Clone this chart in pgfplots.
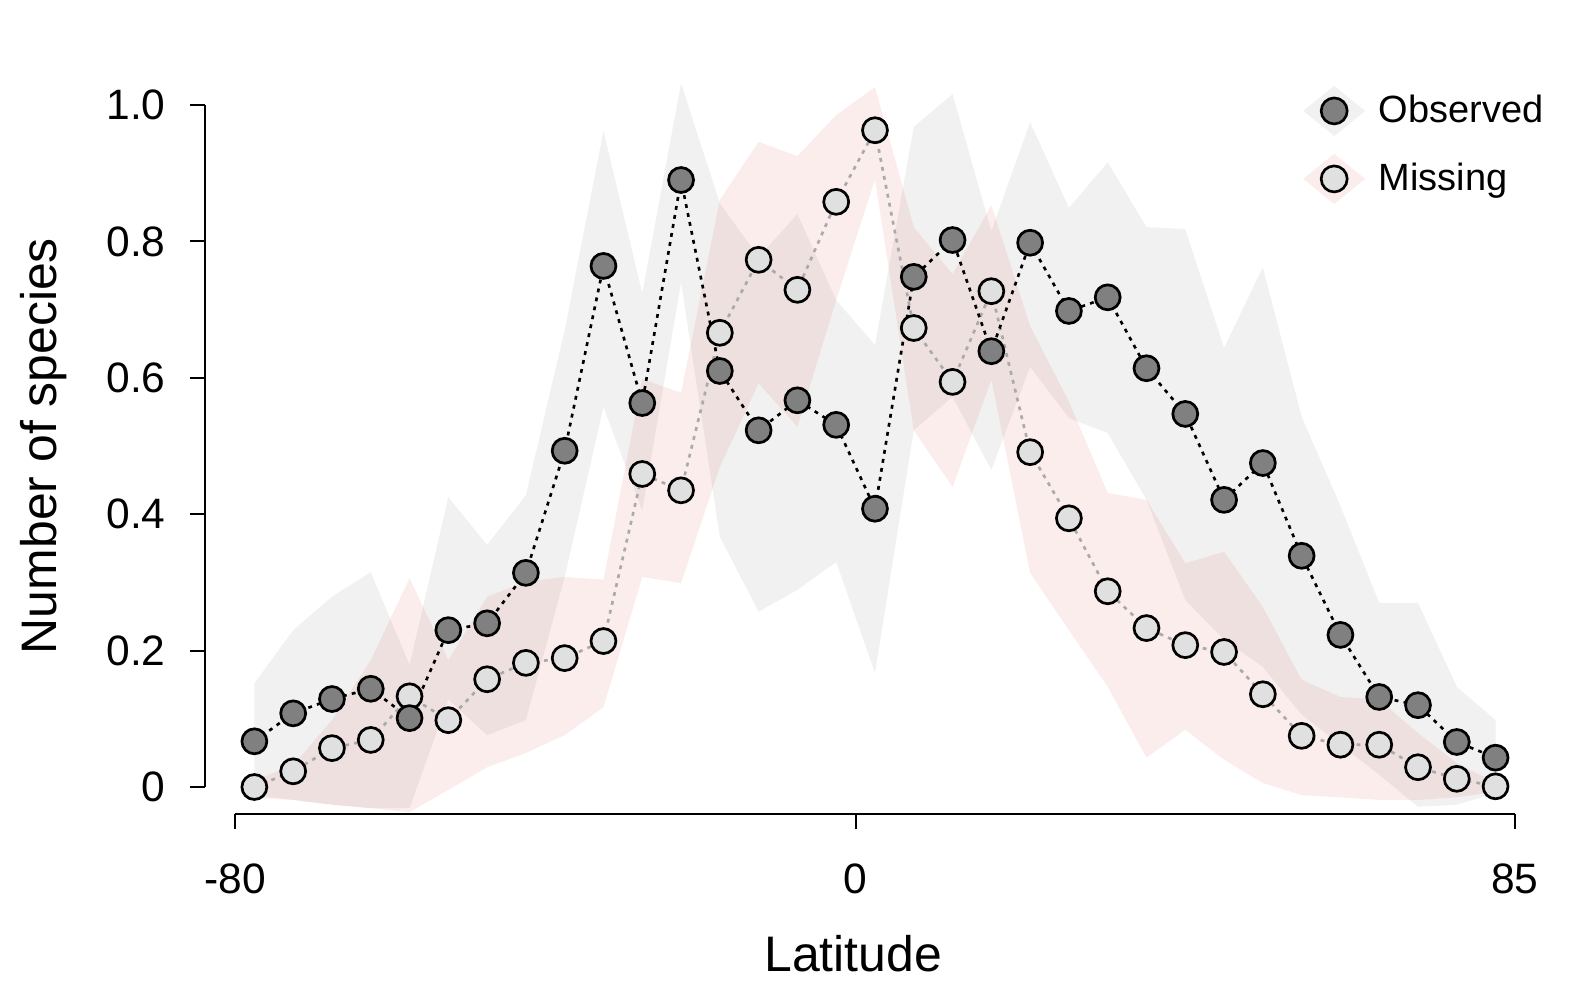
\documentclass[border=0pt]{standalone}
\usepackage{fontspec}
\setmainfont{Liberation Sans}
\usepackage{pgfplots}
\usepackage{pgfplotstable}
\pgfplotsset{compat=1.18}
\usepgfplotslibrary{fillbetween}

\definecolor{obsfill}{RGB}{128,128,128}
\definecolor{misfill}{RGB}{224,224,224}
\definecolor{misline}{RGB}{170,170,170}
\definecolor{pinkband}{RGB}{205,75,55}

% latitude, value, lower and upper edge of the band
\pgfplotstableread{
lat y lo hi
-77.5 0.067 -0.012 0.152
-72.5 0.108 -0.019 0.230
-67.5 0.129 -0.026 0.279
-62.5 0.144 -0.031 0.315
-57.5 0.101 -0.031 0.179
-52.5 0.230 0.128 0.425
-47.5 0.240 0.076 0.355
-42.5 0.314 0.098 0.428
-37.5 0.493 0.308 0.670
-32.5 0.764 0.557 0.962
-27.5 0.563 0.405 0.724
-22.5 0.890 0.740 1.032
-17.5 0.610 0.367 0.856
-12.5 0.523 0.257 0.777
-7.5 0.567 0.289 0.840
-2.5 0.531 0.330 0.714
2.5 0.408 0.167 0.648
7.5 0.748 0.523 0.968
12.5 0.802 0.572 1.016
17.5 0.639 0.465 0.815
22.5 0.798 0.616 0.975
27.5 0.698 0.541 0.849
32.5 0.718 0.519 0.916
37.5 0.614 0.421 0.821
42.5 0.547 0.274 0.818
47.5 0.421 0.216 0.644
52.5 0.475 0.176 0.762
57.5 0.339 0.106 0.543
62.5 0.223 0.062 0.412
67.5 0.132 0.018 0.270
72.5 0.120 -0.029 0.270
77.5 0.066 -0.026 0.147
82.5 0.043 -0.009 0.098
}\obs

\pgfplotstableread{
lat y lo hi
-77.5 0.000 -0.016 0.010
-72.5 0.023 -0.019 0.032
-67.5 0.057 -0.026 0.098
-62.5 0.069 -0.031 0.186
-57.5 0.133 -0.037 0.306
-52.5 0.098 -0.004 0.186
-47.5 0.158 0.029 0.279
-42.5 0.182 0.050 0.301
-37.5 0.189 0.076 0.308
-32.5 0.214 0.117 0.304
-27.5 0.459 0.308 0.598
-22.5 0.435 0.299 0.578
-17.5 0.666 0.469 0.861
-12.5 0.773 0.592 0.946
-7.5 0.729 0.528 0.925
-2.5 0.858 0.714 0.985
2.5 0.963 0.891 1.026
7.5 0.673 0.523 0.821
12.5 0.594 0.440 0.752
17.5 0.727 0.597 0.853
22.5 0.491 0.314 0.676
27.5 0.394 0.230 0.565
32.5 0.287 0.147 0.431
37.5 0.233 0.043 0.421
42.5 0.208 0.084 0.328
47.5 0.198 0.040 0.345
52.5 0.136 0.006 0.264
57.5 0.075 -0.012 0.157
62.5 0.062 -0.015 0.132
67.5 0.062 -0.019 0.128
72.5 0.029 -0.019 0.079
77.5 0.012 -0.015 0.035
82.5 0.001 -0.007 0.006
}\mis

\begin{document}
\begin{tikzpicture}
\begin{axis}[
scale only axis,
width=128mm, height=68.2mm,
xmin=-80, xmax=85, ymin=0, ymax=1,
clip=false,
axis x line*=bottom, axis y line*=left,
axis x line shift=2.7mm, axis y line shift=3mm,
axis line style={line width=0.6pt},
tick style={black, line width=0.6pt},
tick align=outside, major tick length=1.5mm,
xtick={-80,0,85}, xticklabels={-80,0,85},
ytick={0,0.2,0.4,0.6,0.8,1}, yticklabels={0,0.2,0.4,0.6,0.8,1.0},
ticklabel style={font=\fontsize{12.1}{14}\selectfont},
xticklabel style={yshift=-2.2mm},
yticklabel style={xshift=-1.2mm},
xlabel={Latitude}, ylabel={Number of species},
xlabel style={at={(axis description cs:0.483,-0.271)}, anchor=base, font=\fontsize{14.2}{17}\selectfont},
ylabel style={at={(axis description cs:-0.1398,0.5)}, anchor=base, font=\fontsize{14.2}{17}\selectfont},
legend style={at={(axis description cs:0.834,1.029)}, anchor=north west, draw=none, fill=none,
  inner sep=0pt, row sep=1.8mm, font=\fontsize{10.8}{13}\selectfont},
legend cell align=left,
obsband/.style={fill=black, fill opacity=0.055, draw=none},
misband/.style={fill=pinkband, fill opacity=0.1, draw=none},
]

\addlegendimage{legend image code/.code={
  \path[fill=black, fill opacity=0.055, draw=none] (0cm,0cm) -- (0.31cm,0.25cm) -- (0.62cm,0cm) -- (0.31cm,-0.25cm) -- cycle;
  \path (0.68cm,0cm);
  \draw[fill=obsfill, draw=black, line width=0.75pt] (0.31cm,0cm) circle (3.7pt);}}
\addlegendentry{Observed}
\addlegendimage{legend image code/.code={
  \path[fill=pinkband, fill opacity=0.1, draw=none] (0cm,0cm) -- (0.31cm,0.25cm) -- (0.62cm,0cm) -- (0.31cm,-0.25cm) -- cycle;
  \path (0.68cm,0cm);
  \draw[fill=misfill, draw=black, line width=0.75pt] (0.31cm,0cm) circle (3.7pt);}}
\addlegendentry{Missing}

% bands
\addplot[draw=none, name path=oHi, forget plot] table[x=lat, y=hi] {\obs};
\addplot[draw=none, name path=oLo, forget plot] table[x=lat, y=lo] {\obs};
\addplot[obsband, forget plot] fill between[of=oHi and oLo];
\addplot[draw=none, name path=mHi, forget plot] table[x=lat, y=hi] {\mis};
\addplot[draw=none, name path=mLo, forget plot] table[x=lat, y=lo] {\mis};
\addplot[misband, forget plot] fill between[of=mHi and mLo];

% series
\addplot[misline, line width=0.75pt, dash pattern=on 1.1pt off 1.5pt, forget plot,
  mark=*, mark size=3.55pt, mark options={solid, draw=black, fill=misfill, line width=0.77pt}]
  table[x=lat, y=y] {\mis};
\addplot[black, line width=0.75pt, dash pattern=on 1.1pt off 1.5pt, forget plot,
  mark=*, mark size=3.55pt, mark options={solid, draw=black, fill=obsfill, line width=0.77pt}]
  table[x=lat, y=y] {\obs};

\coordinate (O) at (axis cs:-80,0);
\end{axis}
\pgfresetboundingbox
\path[use as bounding box] (O) ++(-23.5mm,-20.3mm) rectangle ++(157mm,99mm);
\end{tikzpicture}
\end{document}
